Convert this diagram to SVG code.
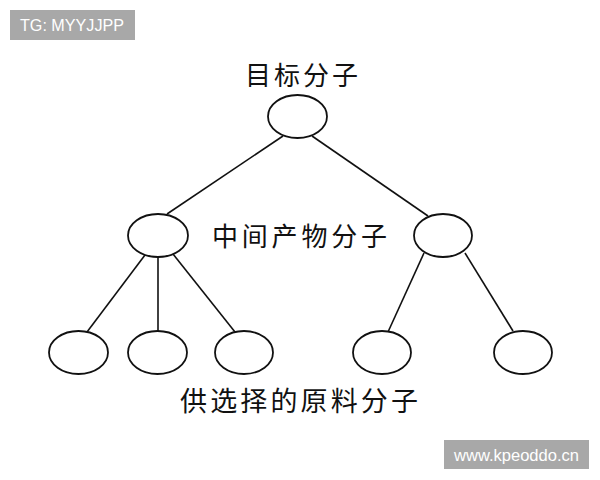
<svg xmlns="http://www.w3.org/2000/svg" width="600" height="480" viewBox="0 0 600 480">
<style>
.node{fill:#fff;stroke:#111;stroke-width:1.8}
.edge{stroke:#111;stroke-width:1.6;fill:none}
.lbl{font-family:"Noto Sans CJK SC","Noto Sans",sans-serif;fill:#111}
.wm{fill:#a8a8a8}
.wmt{font-family:"Liberation Sans",Arial,sans-serif;font-size:16px;fill:#fff}
</style>
<rect width="600" height="480" fill="#fff"/>
<g id="watermark-tl"><rect class="wm" x="10" y="10" width="125" height="30"/><text class="wmt" x="20" y="31" textLength="104" lengthAdjust="spacingAndGlyphs">TG: MYYJJPP</text></g>
<g id="watermark-br"><rect class="wm" x="444" y="440" width="145" height="29"/><text class="wmt" x="454" y="461" textLength="125" lengthAdjust="spacingAndGlyphs">www.kpeoddo.cn</text></g>
<g id="connectors">
<line class="edge" x1="283" y1="136" x2="167" y2="214"/>
<line class="edge" x1="312" y1="136" x2="428" y2="216"/>
<line class="edge" x1="145" y1="255" x2="87" y2="332"/>
<line class="edge" x1="158" y1="257" x2="158" y2="331"/>
<line class="edge" x1="173" y1="254" x2="235" y2="332"/>
<line class="edge" x1="424" y1="253" x2="388" y2="332"/>
<line class="edge" x1="465" y1="253" x2="513" y2="331"/>
</g>
<g id="target"><ellipse class="node" cx="297.5" cy="116.5" rx="29.5" ry="21.5"/><text class="lbl" x="245" y="85" font-size="26" textLength="113" lengthAdjust="spacing">目标分子</text></g>
<g id="mid-left"><ellipse class="node" cx="158" cy="235.5" rx="30" ry="21.5"/></g>
<g id="mid-right"><ellipse class="node" cx="443" cy="235.5" rx="29" ry="21.5"/></g>
<text id="mid-label" class="lbl" x="212" y="246" font-size="26" textLength="175" lengthAdjust="spacing">中间产物分子</text>
<g id="leaf1"><ellipse class="node" cx="78.5" cy="352.5" rx="29.5" ry="21.5"/></g>
<g id="leaf2"><ellipse class="node" cx="157.5" cy="352.5" rx="29.5" ry="21.5"/></g>
<g id="leaf3"><ellipse class="node" cx="244" cy="352.5" rx="29" ry="21.5"/></g>
<g id="leaf4"><ellipse class="node" cx="382" cy="352.5" rx="29" ry="21.5"/></g>
<g id="leaf5"><ellipse class="node" cx="523" cy="352.5" rx="29" ry="21.5"/></g>
<text id="leaf-label" class="lbl" x="180" y="411" font-size="27" textLength="238" lengthAdjust="spacing">供选择的原料分子</text>
</svg>
